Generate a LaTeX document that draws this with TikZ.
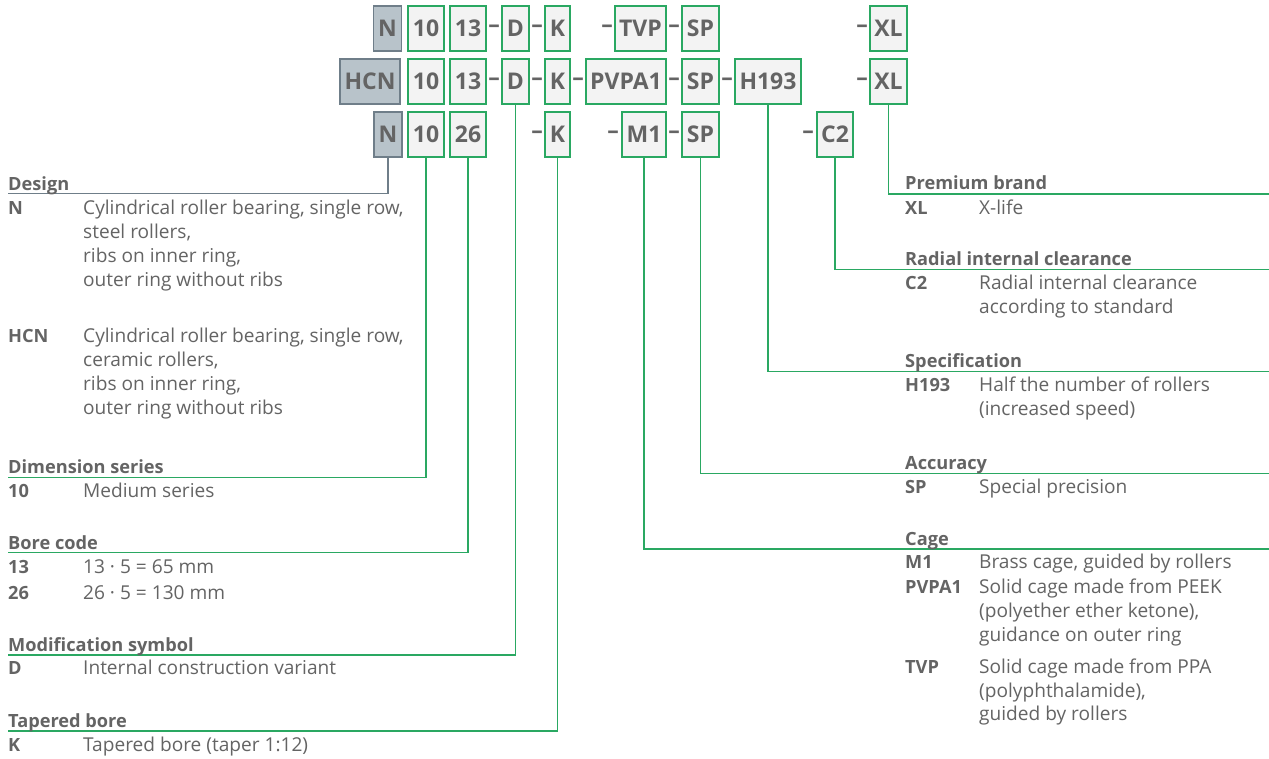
\documentclass[tikz,border=0pt]{standalone}
\usepackage{fontspec}
\setmainfont{Open Sans}
\definecolor{txt}{HTML}{646464}
\definecolor{grn}{HTML}{2AA862}
\definecolor{gfill}{HTML}{F3F3F3}
\definecolor{bfill}{HTML}{B8C3CA}
\definecolor{bline}{HTML}{6F7E89}
\begin{document}
\begin{tikzpicture}[x=1pt,y=-1pt,
  cbox/.style={draw=grn,fill=gfill,line width=1.3pt,minimum height=45pt,inner sep=0pt,text=txt,font=\fontsize{23}{26}\selectfont\bfseries},
  gbox/.style={draw=bline,fill=bfill,line width=1.3pt,minimum height=45pt,inner sep=0pt,text=txt,font=\fontsize{23}{26}\selectfont\bfseries},
  dsh/.style={inner sep=0pt,text=txt,font=\fontsize{23}{26}\selectfont\bfseries},
  conn/.style={draw=grn,line width=1.3pt},
  gconn/.style={draw=bline,line width=1.3pt},
  hd/.style={anchor=base west,inner sep=0pt,text=txt,font=\fontsize{18.2}{20}\selectfont\bfseries},
  ky/.style={anchor=base west,inner sep=0pt,text=txt,font=\fontsize{18.2}{20}\selectfont\bfseries},
  ds/.style={anchor=base west,inner sep=0pt,text=txt,font=\fontsize{19.1}{20}\selectfont}]
\path[use as bounding box,fill=white] (0,0) rectangle (1269,758);
% row 1
\node[gbox,minimum width=28pt] (a1) at (387.5,28.5) {N};
\node[cbox,minimum width=36pt] (a2) at (426,28.5) {10};
\node[cbox,minimum width=36pt] (a3) at (468,28.5) {13};
\node[dsh] (ad1) at (494,28.5) {–};
\node[cbox,minimum width=27pt] (a4) at (515.5,28.5) {D};
\node[dsh] (ad2) at (537,28.5) {–};
\node[cbox,minimum width=25pt] (a5) at (557.5,28.5) {K};
\node[dsh] (ad3) at (607,28.5) {–};
\node[cbox,minimum width=51pt] (a6) at (640.5,28.5) {TVP};
\node[dsh] (ad4) at (674,28.5) {–};
\node[cbox,minimum width=37pt] (a7) at (700.5,28.5) {SP};
\node[dsh] (ad5) at (862,28.5) {–};
\node[cbox,minimum width=37pt] (a8) at (888.5,28.5) {XL};
% row 2
\node[gbox,minimum width=60pt] (b1) at (370,81.5) {HCN};
\node[cbox,minimum width=36pt] (b2) at (426,81.5) {10};
\node[cbox,minimum width=36pt] (b3) at (468,81.5) {13};
\node[dsh] (bd1) at (494,81.5) {–};
\node[cbox,minimum width=27pt] (b4) at (515.5,81.5) {D};
\node[dsh] (bd2) at (537,81.5) {–};
\node[cbox,minimum width=25pt] (b5) at (557.5,81.5) {K};
\node[dsh] (bd3) at (578,81.5) {–};
\node[cbox,minimum width=80pt] (b6) at (626,81.5) {PVPA1};
\node[dsh] (bd4) at (674,81.5) {–};
\node[cbox,minimum width=37pt] (b7) at (700.5,81.5) {SP};
\node[dsh] (bd5) at (727,81.5) {–};
\node[cbox,minimum width=66pt] (b8) at (768,81.5) {H193};
\node[dsh] (bd6) at (862,81.5) {–};
\node[cbox,minimum width=37pt] (b9) at (888.5,81.5) {XL};
% row 3
\node[gbox,minimum width=28pt] (c1) at (388,134.5) {N};
\node[cbox,minimum width=36pt] (c2) at (426,134.5) {10};
\node[cbox,minimum width=36pt] (c3) at (468,134.5) {26};
\node[dsh] (cd1) at (537,134.5) {–};
\node[cbox,minimum width=25pt] (c4) at (557.5,134.5) {K};
\node[dsh] (cd2) at (613,134.5) {–};
\node[cbox,minimum width=44pt] (c5) at (644,134.5) {M1};
\node[dsh] (cd3) at (674,134.5) {–};
\node[cbox,minimum width=37pt] (c6) at (700.5,134.5) {SP};
\node[dsh] (cd4) at (808,134.5) {–};
\node[cbox,minimum width=36pt] (c7) at (835,134.5) {C2};
% connector end points
\coordinate (eDes) at (8,193.5);
\coordinate (eDim) at (8,477.5);
\coordinate (eBore) at (8,552.5);
\coordinate (eMod) at (8,655);
\coordinate (eTap) at (8,731);
\coordinate (eXL) at (1269,194);
\coordinate (eC2) at (1269,269.5);
\coordinate (eSpec) at (1269,371.5);
\coordinate (eAcc) at (1269,473.5);
\coordinate (eCage) at (1269,549);
% connectors
\draw[gconn] (c1.south) |- (eDes);
\draw[conn] (c2.south) |- (eDim);
\draw[conn] (c3.south) |- (eBore);
\draw[conn] (b4.south) |- (eMod);
\draw[conn] (c4.south) |- (eTap);
\draw[conn] (b9.south) |- (eXL);
\draw[conn] (c7.south) |- (eC2);
\draw[conn] (b8.south) |- (eSpec);
\draw[conn] (c6.south) |- (eAcc);
\draw[conn] (c5.south) |- (eCage);
% left texts
\node[hd] (tDes) at (8,190) {Design};
\node[ky] (kN) at (8,214) {N};
\node[ds] (dN1) at (83,214) {Cylindrical roller bearing, single row,};
\node[ds] (dN2) at (83,238.3) {steel rollers,};
\node[ds] (dN3) at (83,262.6) {ribs on inner ring,};
\node[ds] (dN4) at (83,286.9) {outer ring without ribs};
\node[ky] (kH) at (8,342) {HCN};
\node[ds] (dH1) at (83,342) {Cylindrical roller bearing, single row,};
\node[ds] (dH2) at (83,366.3) {ceramic rollers,};
\node[ds] (dH3) at (83,390.6) {ribs on inner ring,};
\node[ds] (dH4) at (83,414.9) {outer ring without ribs};
\node[hd] (tDim) at (8,473.5) {Dimension series};
\node[ky] (k10) at (8,497.5) {10};
\node[ds] (d10) at (83,497.5) {Medium series};
\node[hd] (tBore) at (8,549) {Bore code};
\node[ky] (k13) at (8,573) {13};
\node[ds] (d13) at (83,573) {13 · 5 = 65 mm};
\node[ky] (k26) at (8,599.5) {26};
\node[ds] (d26) at (83,599.5) {26 · 5 = 130 mm};
\node[hd] (tMod) at (8,651) {Modification symbol};
\node[ky] (kD) at (8,674.5) {D};
\node[ds] (dD) at (83,674.5) {Internal construction variant};
\node[hd] (tTap) at (8,727) {Tapered bore};
\node[ky] (kK) at (8,751) {K};
\node[ds] (dK) at (83,751) {Tapered bore (taper 1:12)};
% right texts
\node[hd] (tXL) at (905,189.5) {Premium brand};
\node[ky] (kXL) at (905,214) {XL};
\node[ds] (dXL) at (979,214) {X-life};
\node[hd] (tC2) at (905,265) {Radial internal clearance};
\node[ky] (kC2) at (905,289.3) {C2};
\node[ds] (dC21) at (979,289.3) {Radial internal clearance};
\node[ds] (dC22) at (979,313) {according to standard};
\node[hd] (tSpec) at (905,367) {Specification};
\node[ky] (kH193) at (905,391) {H193};
\node[ds] (dH1931) at (979,391) {Half the number of rollers};
\node[ds] (dH1932) at (979,415) {(increased speed)};
\node[hd] (tAcc) at (905,469) {Accuracy};
\node[ky] (kSP) at (905,493) {SP};
\node[ds] (dSP) at (979,493) {Special precision};
\node[hd] (tCage) at (905,545) {Cage};
\node[ky] (kM1) at (905,568.5) {M1};
\node[ds] (dM1) at (979,568.5) {Brass cage, guided by rollers};
\node[ky] (kPV) at (905,593.3) {PVPA1};
\node[ds] (dPV1) at (979,593.3) {Solid cage made from PEEK};
\node[ds] (dPV2) at (979,617.5) {(polyether ether ketone),};
\node[ds] (dPV3) at (979,641.7) {guidance on outer ring};
\node[ky] (kTVP) at (905,673.3) {TVP};
\node[ds] (dTVP1) at (979,673.3) {Solid cage made from PPA};
\node[ds] (dTVP2) at (979,697) {(polyphthalamide),};
\node[ds] (dTVP3) at (979,720.5) {guided by rollers};
\end{tikzpicture}
\end{document}
